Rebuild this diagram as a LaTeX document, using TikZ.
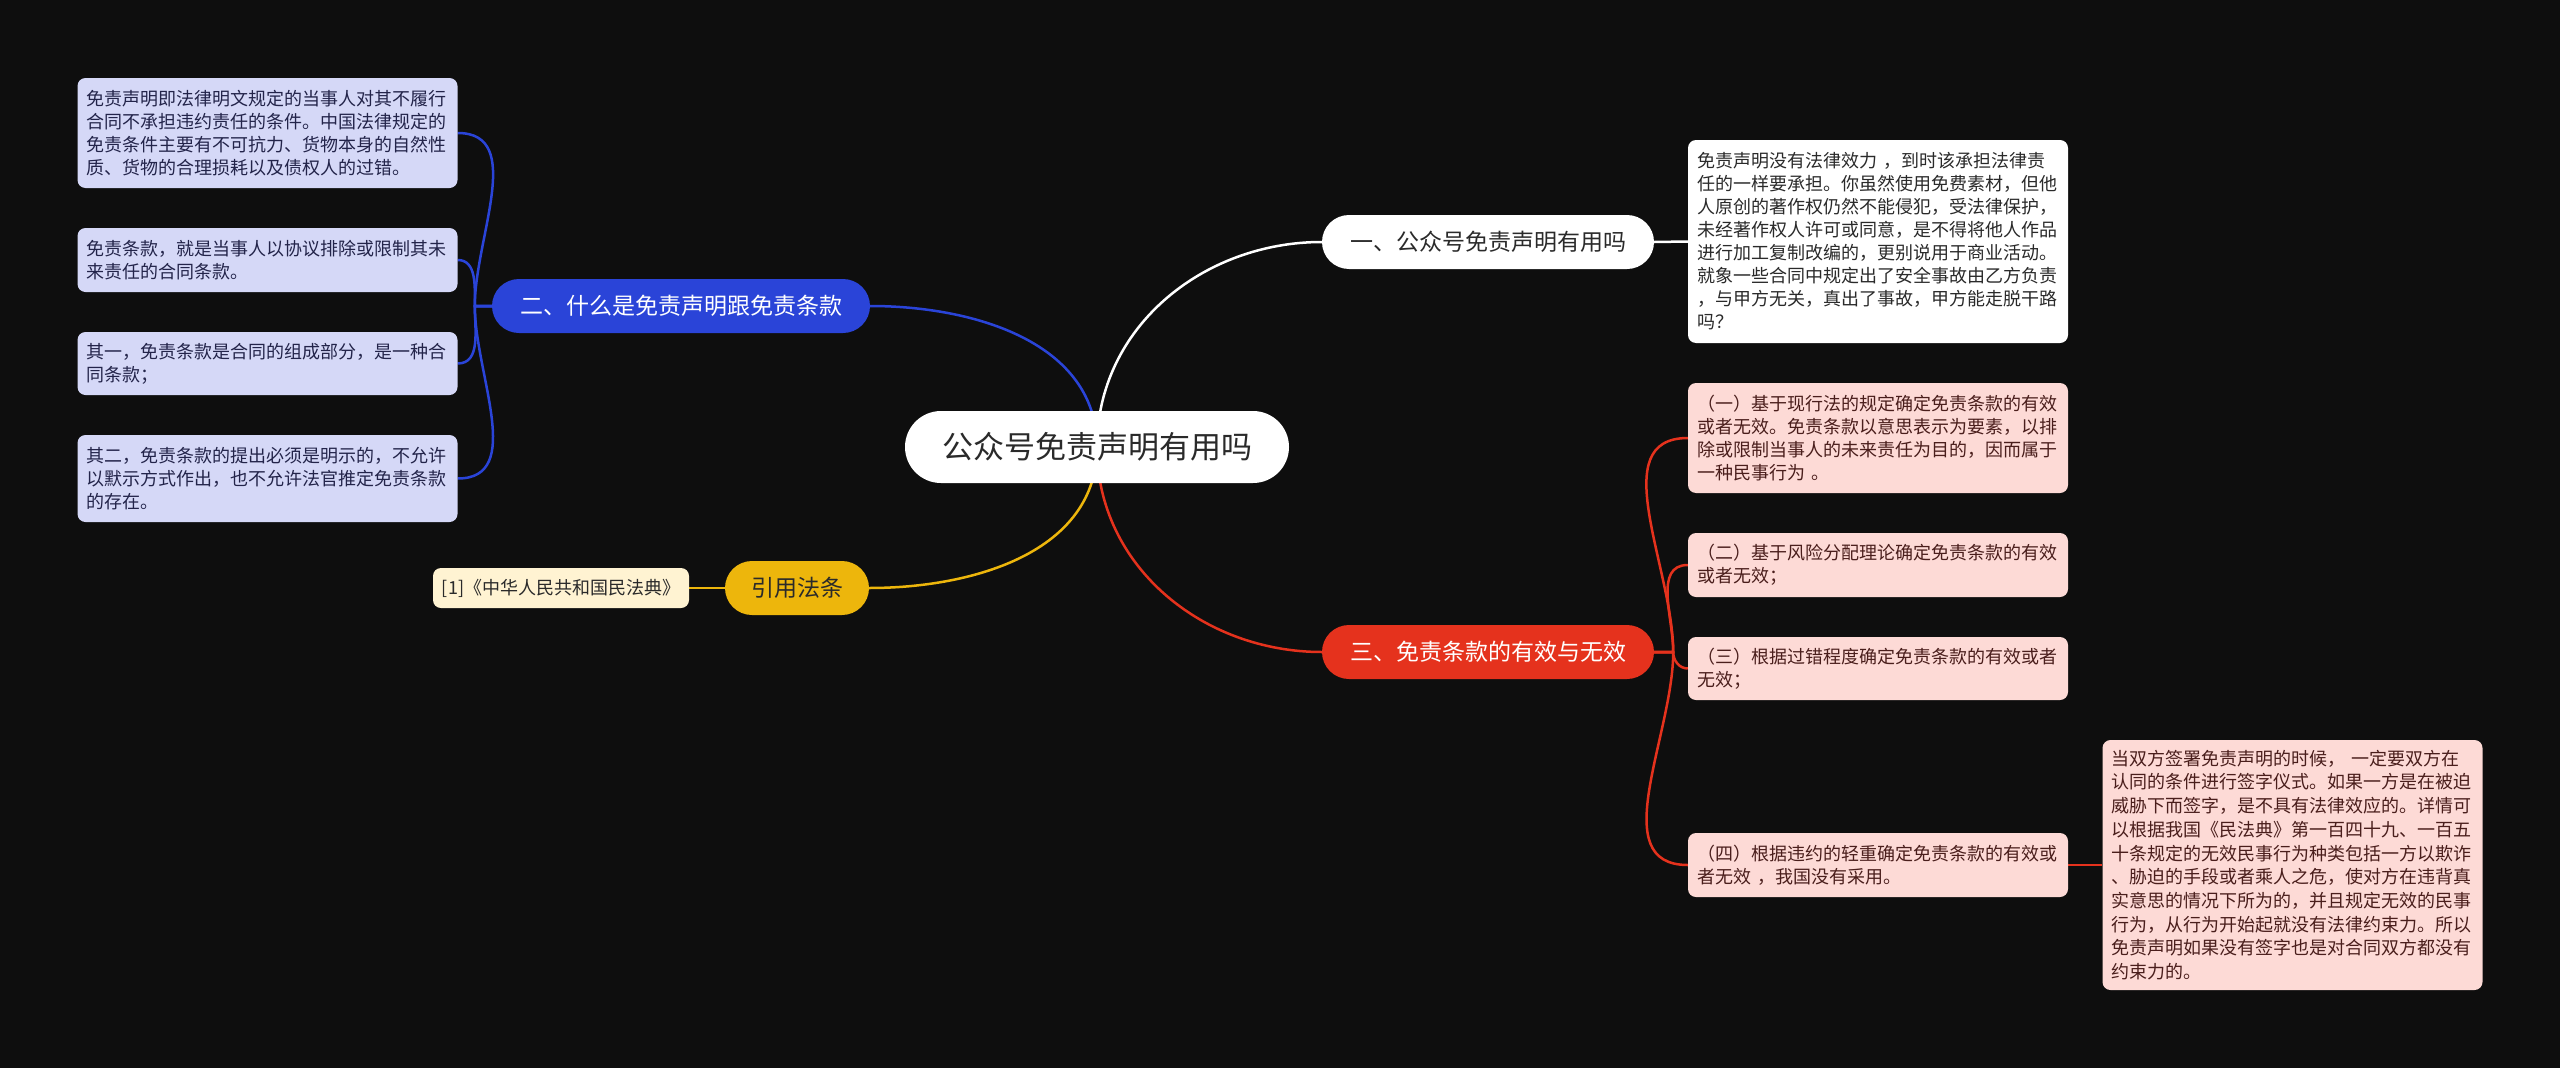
\documentclass[tikz,border=0pt]{standalone}
\usepackage{fontspec}
\setmainfont{Noto Sans CJK SC}
\usetikzlibrary{positioning}
\definecolor{fondo}{HTML}{0E0E0E}
\definecolor{azul}{HTML}{2A44D8}
\definecolor{rojo}{HTML}{E5321D}
\definecolor{oro}{HTML}{EDB60C}
\definecolor{hojaazul}{HTML}{D5D8F7}
\definecolor{hojaroja}{HTML}{FDDAD6}
\definecolor{hojaoro}{HTML}{FFF3D2}
\definecolor{tinta}{HTML}{2A2A2A}
\definecolor{tintaazul}{HTML}{23244A}
\definecolor{tintaroja}{HTML}{4A1E1C}
\pgfdeclarelayer{fondocapa}
\pgfdeclarelayer{lineas}
\pgfsetlayers{fondocapa,lineas,main}
\begin{document}
\begin{tikzpicture}[x=1pt, y=-1pt,
  hoja/.style={rounded corners=8pt, inner xsep=9pt, inner ysep=6pt, text width=362pt, minimum width=380pt, align=left, font=\fontsize{18}{23}\selectfont},
  ramal/.style={rounded corners=27pt, minimum height=54pt, inner xsep=28pt, font=\fontsize{23}{27}\selectfont},
  linea/.style={line width=2.5pt}]
  \useasboundingbox (0,0) rectangle (2560,1068);
  \begin{pgfonlayer}{fondocapa}
    \fill[fondo] (0,0) rectangle (2560,1068);
  \end{pgfonlayer}
  \node[fill=white, text=tinta, rounded corners=36pt, minimum height=72pt, inner xsep=37pt, font=\fontsize{31}{37}\selectfont] (root) at (1097,447) {公众号免责声明有用吗};
  \node[ramal, fill=white, text=tinta] (b1) at (1488,242) {一、公众号免责声明有用吗};
  \node[ramal, fill=azul, text=white] (b2) at (681,306) {二、什么是免责声明跟免责条款};
  \node[ramal, fill=oro, text=tinta, inner xsep=26pt] (b4) at (797,588) {引用法条};
  \node[ramal, fill=rojo, text=white] (b3) at (1488,652) {三、免责条款的有效与无效};
  \node[hoja, fill=white, text=tinta, minimum height=203pt] (w1) at (1878,241.5) {免责声明没有法律效力 ，到时该承担法律责\\任的一样要承担。你虽然使用免费素材，但他\\人原创的著作权仍然不能侵犯，受法律保护，\\未经著作权人许可或同意，是不得将他人作品\\进行加工复制改编的，更别说用于商业活动。\\就象一些合同中规定出了安全事故由乙方负责\\，与甲方无关，真出了事故，甲方能走脱干路\\吗？};
  \node[hoja, fill=hojaazul, text=tintaazul, minimum height=110pt] (la) at (267.5,133) {免责声明即法律明文规定的当事人对其不履行\\合同不承担违约责任的条件。中国法律规定的\\免责条件主要有不可抗力、货物本身的自然性\\质、货物的合理损耗以及债权人的过错。};
  \node[hoja, fill=hojaazul, text=tintaazul, minimum height=64pt] (lb) at (267.5,260) {免责条款，就是当事人以协议排除或限制其未\\来责任的合同条款。};
  \node[hoja, fill=hojaazul, text=tintaazul, minimum height=63pt] (lc) at (267.5,363.5) {其一，免责条款是合同的组成部分，是一种合\\同条款；};
  \node[hoja, fill=hojaazul, text=tintaazul, minimum height=87pt] (ld) at (267.5,478.5) {其二，免责条款的提出必须是明示的，不允许\\以默示方式作出，也不允许法官推定免责条款\\的存在。};
  \node[fill=hojaoro, text=tinta, rounded corners=8pt, minimum width=256pt, minimum height=40pt, inner xsep=8pt, font=\fontsize{18}{22}\selectfont] (y1) at (561,588) {[1]《中华人民共和国民法典》};
  \node[hoja, fill=hojaroja, text=tintaroja, minimum height=110pt] (r1) at (1878,438) {（一）基于现行法的规定确定免责条款的有效\\或者无效。免责条款以意思表示为要素，以排\\除或限制当事人的未来责任为目的，因而属于\\一种民事行为 。};
  \node[hoja, fill=hojaroja, text=tintaroja, minimum height=64pt] (r2) at (1878,565) {（二）基于风险分配理论确定免责条款的有效\\或者无效；};
  \node[hoja, fill=hojaroja, text=tintaroja, minimum height=63pt] (r3) at (1878,668.5) {（三）根据过错程度确定免责条款的有效或者\\无效；};
  \node[hoja, fill=hojaroja, text=tintaroja, minimum height=64pt] (r4) at (1878,865) {（四）根据违约的轻重确定免责条款的有效或\\者无效 ，我国没有采用。};
  \node[hoja, fill=hojaroja, text=tintaroja, minimum height=250pt, font=\fontsize{18}{23.7}\selectfont] (r5) at (2292.5,865) {当双方签署免责声明的时候， 一定要双方在\\认同的条件进行签字仪式。如果一方是在被迫\\威胁下而签字，是不具有法律效应的。详情可\\以根据我国《民法典》第一百四十九、一百五\\十条规定的无效民事行为种类包括一方以欺诈\\、胁迫的手段或者乘人之危，使对方在违背真\\实意思的情况下所为的，并且规定无效的民事\\行为，从行为开始起就没有法律约束力。所以\\免责声明如果没有签字也是对合同双方都没有\\约束力的。};
  \begin{pgfonlayer}{lineas}
    \draw[linea, white] (root.center) to[out=90, in=180] (b1.west);
    \draw[linea, azul] (root.center) to[out=90, in=0] (b2.east);
    \draw[linea, oro] (root.center) to[out=-90, in=0] (b4.east);
    \draw[linea, rojo] (root.center) to[out=-90, in=180] (b3.west);
    \draw[linea, white] (b1.east) -- (w1.west);
    \draw[linea, oro] (b4.west) -- (y1.east);
    \draw[linea, azul] (b2.west) -- ++(-17,0) to[out=90, in=0] (la.east);
    \draw[linea, azul] (b2.west) -- ++(-17,0) to[out=90, in=0] (lb.east);
    \draw[linea, azul] (b2.west) -- ++(-17,0) to[out=-90, in=0] (lc.east);
    \draw[linea, azul] (b2.west) -- ++(-17,0) to[out=-90, in=0] (ld.east);
    \draw[linea, rojo] (b3.east) -- ++(19,0) to[out=90, in=180] (r1.west);
    \draw[linea, rojo] (b3.east) -- ++(19,0) to[out=90, in=180] (r2.west);
    \draw[linea, rojo] (b3.east) -- ++(19,0) to[out=-90, in=180] (r3.west);
    \draw[linea, rojo] (b3.east) -- ++(19,0) to[out=-90, in=180] (r4.west);
    \draw[linea, rojo] (r4.east) -- (r5.west);
  \end{pgfonlayer}
\end{tikzpicture}
\end{document}
